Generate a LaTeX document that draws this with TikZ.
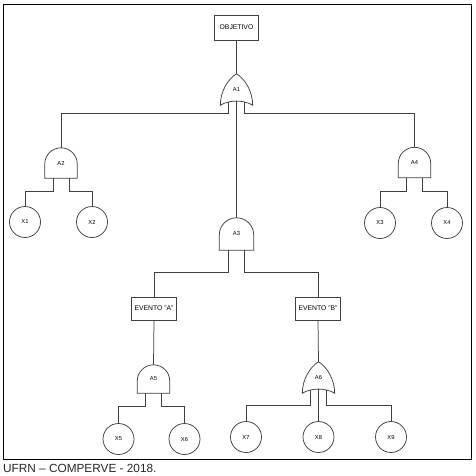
\documentclass[tikz,border=0pt]{standalone}
\usepackage{fontspec}
\setmainfont{Liberation Sans}
\usetikzlibrary{calc}
\tikzset{
  gline/.style={draw=black!75, line width=0.75pt},
  conn/.style={draw=black!75, line width=0.75pt},
  evbox/.style={draw=black!75, line width=0.75pt, minimum width=45pt, minimum height=23pt, inner sep=0pt, font=\fontsize{6.8}{7}\selectfont},
  gatebox/.style={inner sep=0pt, font=\fontsize{5.8}{6}\selectfont},
  andbox/.style={gatebox, minimum width=32pt, minimum height=30pt},
  orbox/.style={gatebox, minimum width=32pt, minimum height=31pt},
  basic/.style={circle, draw=black!75, line width=0.75pt, minimum size=31pt, inner sep=0pt, font=\fontsize{5.8}{6}\selectfont},
}
\newcommand\andoutline[2]{%
  \draw[gline] (#1.south west) -- ($(#1.north west)+(0,#2)$)
    .. controls +(0,{-0.5523*#2}) and +({-0.5523*#2},0) .. (#1.north)
    .. controls +({0.5523*#2},0) and +(0,{-0.5523*#2}) .. ($(#1.north east)+(0,#2)$)
    -- (#1.south east) -- cycle;}
\newcommand\oroutline[1]{%
  \draw[gline] (#1.north) .. controls +(8,4.6) and +(0,-14) .. (#1.south east)
    .. controls +(-9.6,-5.5) and +(9.6,-5.5) .. (#1.south west)
    .. controls +(0,-14) and +(-8,4.6) .. (#1.north) -- cycle;}
\begin{document}
\begin{tikzpicture}[x=1pt,y=-1pt]
\useasboundingbox (0,0) rectangle (475,476);
\draw[line width=0.9pt] (3,4) rectangle (471,459);
\node[anchor=base west, inner sep=0pt, text=black!85, font=\fontsize{11.8}{12}\selectfont] (cap) at (3,472) {UFRN – COMPERVE - 2018.};

% nodes
\node[evbox, minimum width=44pt, minimum height=25pt] (obj) at (236.5,27.5) {OBJETIVO};
\node[orbox] (A1) at (236.5,89.5) {A1};
\node[andbox] (A2) at (61,163) {A2};
\node[andbox] (A4) at (414.5,162.5) {A4};
\node[andbox, minimum width=34pt, minimum height=32pt] (A3) at (236.5,234) {A3};
\node[evbox] (EvA) at (154,308.5) {EVENTO "A"};
\node[evbox] (EvB) at (318,308.5) {EVENTO "B"};
\node[andbox, minimum height=28pt] (A5) at (153.5,379) {A5};
\node[orbox] (A6) at (318.5,377.5) {A6};
\node[basic] (X1) at (25,222) {X1};
\node[basic] (X2) at (92,222) {X2};
\node[basic] (X3) at (380,223) {X3};
\node[basic] (X4) at (447,223) {X4};
\node[basic] (X5) at (118.5,439) {X5};
\node[basic] (X6) at (184.5,439) {X6};
\node[basic] (X7) at (246,437) {X7};
\node[basic] (X8) at (318.5,437) {X8};
\node[basic] (X9) at (391,437) {X9};

% gate outlines
\oroutline{A1}
\oroutline{A6}
\andoutline{A2}{16}
\andoutline{A4}{16}
\andoutline{A3}{17}
\andoutline{A5}{16}

% connectors
\draw[conn] (obj.south) -- (A1.north);
\draw[conn] ($(A1.south)+(-8,-3)$) -- ($(A1.south)+(-8,8)$) -| (A2.north);
\draw[conn] ($(A1.south)+(8,-3)$) -- ($(A1.south)+(8,8)$) -| (A4.north);
\draw[conn] ($(A1.south)+(0,-4)$) -- (A3.north);

\draw[conn] ($(A2.south)+(-8,0)$) -- ++(0,13) -| (X1.north);
\draw[conn] ($(A2.south)+(8,0)$) -- ++(0,13) -| (X2.north);
\draw[conn] ($(A4.south)+(-8,0)$) -- ++(0,13.5) -| (X3.north);
\draw[conn] ($(A4.south)+(8,0)$) -- ++(0,13.5) -| (X4.north);

\draw[conn] ($(A3.south)+(-8,0)$) -- ++(0,22) -| (EvA.north);
\draw[conn] ($(A3.south)+(8,0)$) -- ++(0,22) -| (EvB.north);
\draw[conn] (EvA.south) -- (A5.north);
\draw[conn] (EvB.south) -- (A6.north);

\draw[conn] ($(A5.south)+(-8,0)$) -- ++(0,13) -| (X5.north);
\draw[conn] ($(A5.south)+(8,0)$) -- ++(0,13) -| (X6.north);
\draw[conn] ($(A6.south)+(-8,-3)$) -- ($(A6.south)+(-8,12)$) -| (X7.north);
\draw[conn] ($(A6.south)+(8,-3)$) -- ($(A6.south)+(8,12)$) -| (X9.north);
\draw[conn] ($(A6.south)+(0,-4)$) -- (X8.north);
\end{tikzpicture}
\end{document}
